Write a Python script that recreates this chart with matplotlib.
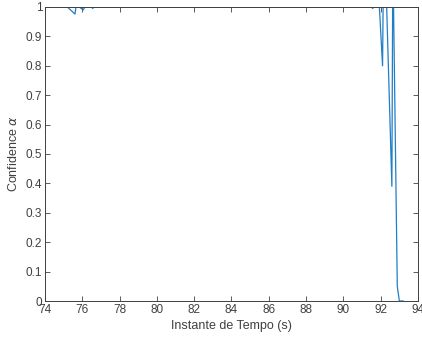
import matplotlib
matplotlib.use("Agg")
import matplotlib.pyplot as plt

# time (s) and confidence values
tempo = [75.10, 75.20, 75.61, 75.66, 75.84, 76.05, 76.14, 76.50, 76.56, 76.62,
         91.50, 91.57, 91.62, 91.93, 92.10, 92.13, 92.32, 92.60, 92.64, 92.69,
         92.89, 93.00, 93.20]
confianca = [1.0, 1.0, 0.976, 1.0, 1.0, 0.99, 1.0, 1.0, 0.995, 1.0,
             1.0, 0.995, 1.0, 1.0, 0.80, 1.0, 1.0, 0.39, 1.0, 1.0,
             0.05, 0.0, 0.0]

xticks = list(range(74, 95, 2))
yticks = [0, 0.1, 0.2, 0.3, 0.4, 0.5, 0.6, 0.7, 0.8, 0.9, 1]
ytick_labels = ["0", "0.1", "0.2", "0.3", "0.4", "0.5", "0.6", "0.7", "0.8", "0.9", "1"]

plt.rcParams['font.family'] = ['Liberation Sans', 'DejaVu Sans']
dark = '#404040'

fig = plt.figure(figsize=(4.22, 3.41), dpi=100)
ax = fig.add_axes([0.1066, 0.1173, 0.8839, 0.8622])

ax.plot(tempo, confianca, color='#1f7fc4', linewidth=0.9)

ax.set_xlim(74, 94)
ax.set_ylim(0, 1)
ax.set_xticks(xticks)
ax.set_yticks(yticks)
ax.set_yticklabels(ytick_labels)
ax.tick_params(direction='in', length=3.5, width=0.6, top=True, right=True,
               labelsize=8.5, colors=dark)
ax.tick_params(axis='x', pad=2)
ax.tick_params(axis='y', pad=2)
for s in ax.spines.values():
    s.set_color(dark)
    s.set_linewidth(0.7)

ax.set_xlabel("Instante de Tempo (s)", fontsize=9, color=dark, labelpad=3)
ax.set_ylabel(r"Confidence $\alpha$", fontsize=9, color=dark, labelpad=4)

fig.savefig("out.png", dpi=100)
